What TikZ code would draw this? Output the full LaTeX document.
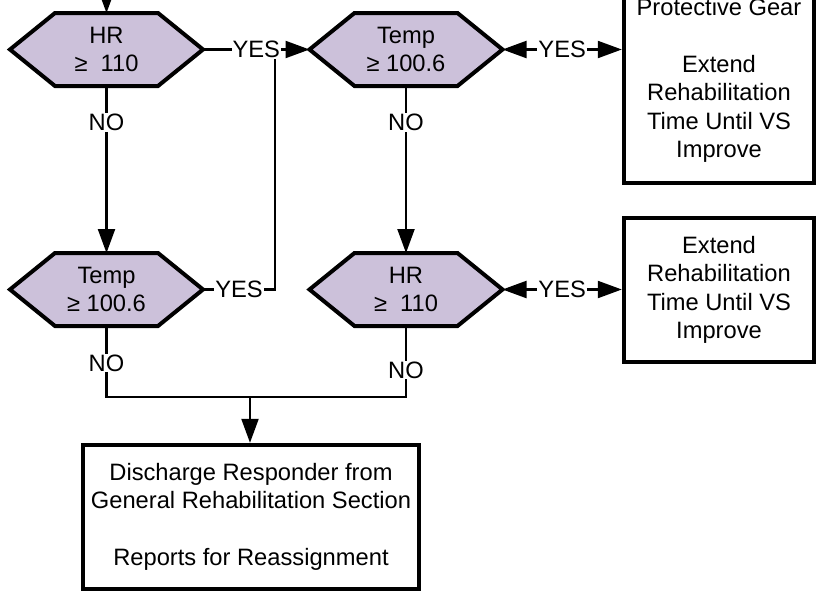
\documentclass[tikz,border=0pt]{standalone}
\usepackage{fontspec}
\setmainfont{Liberation Sans}
\usetikzlibrary{arrows.meta,calc}
\pgfdeclarelayer{background}
\pgfsetlayers{background,main}
\definecolor{hexfill}{RGB}{204,193,218}
\begin{document}
\begin{tikzpicture}[x=1pt,y=-1pt,
  base/.style={font=\fontsize{23.7}{28.4}\selectfont, align=center},
  hexnode/.style={base, rectangle, minimum width=193pt, minimum height=73pt, inner sep=0pt, outer sep=0pt},
  boxnode/.style={base, draw, line width=4.4pt, rectangle, inner sep=0pt},
  conn/.style={line width=2.2pt},
  arr/.style={conn, -{Triangle[length=24pt,width=17pt]}},
  darr/.style={conn, {Triangle[length=24pt,width=17pt]}-{Triangle[length=24pt,width=17pt]}},
  lab/.style={base, fill=white, inner sep=1pt},
  hexline/.style={draw, fill=hexfill, line width=4pt, line join=miter},
]
\useasboundingbox (0,0) rectangle (817,592);

% decision nodes
\node[hexnode] (h1) at (106.5,49.5) {HR\\≥~~110};
\node[hexnode] (h2) at (406,49.5) {Temp\\≥ 100.6};
\node[hexnode] (h3) at (106.5,289.5) {Temp\\≥ 100.6};
\node[hexnode] (h4) at (406,289.5) {HR\\≥~~110};

\begin{pgfonlayer}{background}
\foreach \n in {h1,h2,h3,h4}
  \path[hexline] (\n.west) -- ([xshift=45pt]\n.north west) -- ([xshift=-45pt]\n.north east)
     -- (\n.east) -- ([xshift=-45pt]\n.south east) -- ([xshift=45pt]\n.south west) -- cycle;
\end{pgfonlayer}

% boxes
\node[boxnode, minimum width=190pt, minimum height=205pt] (box1) at (719,80.5)
  {Protective Gear\\\mbox{}\\Extend\\Rehabilitation\\Time Until VS\\Improve};
\node[boxnode, minimum width=190pt, minimum height=144pt] (box2) at (719,290)
  {Extend\\Rehabilitation\\Time Until VS\\Improve};
\node[boxnode, minimum width=336pt, minimum height=144pt] (box3) at (251,517)
  {Discharge Responder from\\General Rehabilitation Section\\\mbox{}\\Reports for Reassignment};

% coordinates
\coordinate (top) at (106.5,-30);
\coordinate (m) at (275,49.5);
\coordinate (j) at (250,397);

% connectors
\draw[arr] (top) -- (h1.north);
\draw[conn] (h3.east) -- node[lab]{YES} (h3.east -| m) -- (m);
\draw[arr] (h1.east) -- node[lab]{YES} (h2.west);
\draw[darr] (h2.east) -- node[lab]{YES} (h2.east -| box1.west);
\draw[darr] (h4.east) -- node[lab]{YES} (h4.east -| box2.west);
\draw[arr] (h1.south) -- node[lab,pos=0.22]{NO} (h3.north);
\draw[arr] (h2.south) -- node[lab,pos=0.22]{NO} (h4.north);
\draw[conn] (h3.south) -- node[lab,pos=0.52]{NO} (h3.south |- j) -- (h4.south |- j)
   -- node[lab,pos=0.38]{NO} (h4.south);
\draw[arr] (j) -- (j |- box3.north);
\end{tikzpicture}
\end{document}
